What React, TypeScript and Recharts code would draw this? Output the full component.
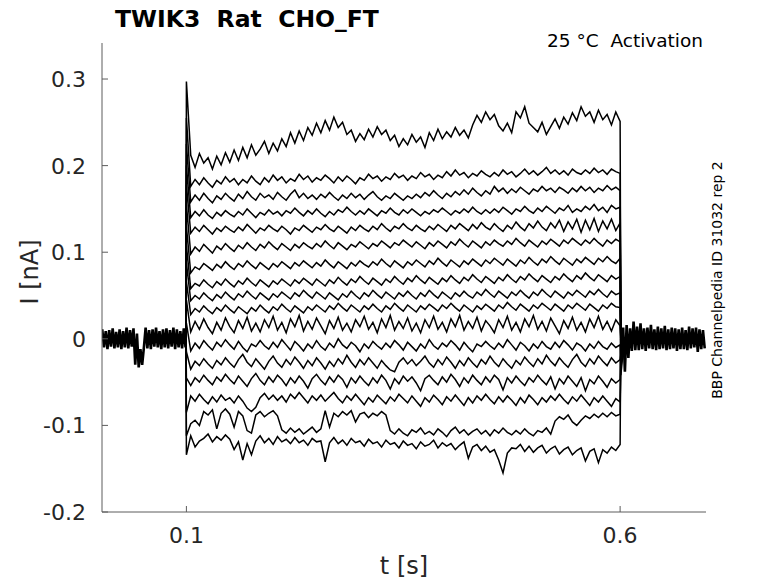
import { LineChart, Line, XAxis, YAxis } from "recharts"

// current traces are stored in pA, plotted in nA
const STEP_DT = 0.005 // s, one sample per 5 ms during the voltage step
const BAND_DT = 0.002 // s, holding-level samples

const X_TICKS = [0.1, 0.6]
const Y_TICKS = [-0.2, -0.1, 0, 0.1, 0.2, 0.3]

const sweep01 = [
  212, 198, 214, 203, 209, 196, 211, 201, 215, 204,
  218, 206, 221, 209, 224, 212, 219, 228, 214, 226,
  217, 231, 222, 238, 226, 240, 229, 244, 235, 249,
  238, 252, 241, 256, 244, 250, 236, 241, 228, 237,
  230, 242, 233, 245, 236, 241, 229, 235, 222, 231,
  224, 236, 227, 233, 221, 238, 229, 242, 231, 239,
  233, 244, 235, 241, 232, 247, 258, 250, 262, 253,
  259, 246, 240, 249, 238, 262, 255, 268, 249, 244,
  239, 250, 236, 245, 254, 243, 256, 248, 261, 252,
  268, 257, 262, 250, 264, 253, 259, 247, 262, 251,
]
const sweep02 = [
  176, 184, 178, 186, 180, 175, 183, 179, 187, 181,
  185, 178, 184, 180, 188, 182, 178, 186, 181, 189,
  183, 187, 180, 185, 182, 190, 184, 188, 181, 186,
  183, 189, 185, 180, 187, 182, 188, 184, 179, 186,
  183, 190, 185, 188, 182, 187, 184, 191, 186, 189,
  183, 188, 185, 192, 187, 190, 184, 189, 186, 193,
  188, 195, 189, 192, 186, 191, 188, 194, 190, 187,
  192, 188, 195, 190, 193, 187, 191, 196, 190, 194,
  189, 193, 198, 191, 195, 190, 194, 189, 196, 192,
  190, 195, 191, 197, 192, 195, 190, 196, 193, 191,
]
const sweep03 = [
  158, 166, 160, 168, 162, 157, 165, 161, 168, 163,
  159, 167, 162, 170, 164, 160, 168, 163, 166, 161,
  169, 164, 160, 167, 172, 163, 168, 162, 166, 161,
  167, 163, 169, 164, 160, 166, 162, 168, 163, 167,
  161, 166, 170, 164, 160, 165, 162, 168, 164, 160,
  165, 162, 167, 163, 169, 165, 171, 166, 162, 168,
  164, 170, 166, 172, 167, 174, 169, 165, 171, 167,
  176, 170, 174, 168, 173, 169, 175, 171, 167, 173,
  170, 176, 171, 174, 169, 175, 172, 168, 174, 170,
  176, 171, 175, 169, 174, 171, 177, 172, 175, 171,
]
const sweep04 = [
  140, 147, 142, 149, 143, 139, 146, 142, 148, 144,
  141, 147, 143, 150, 145, 140, 146, 143, 149, 144,
  147, 142, 148, 145, 151, 146, 142, 148, 144, 150,
  145, 141, 147, 143, 149, 146, 152, 147, 143, 148,
  144, 150, 146, 142, 148, 145, 151, 146, 143, 149,
  145, 150, 146, 142, 147, 144, 149, 146, 151, 147,
  143, 148, 145, 150, 146, 152, 147, 144, 149, 145,
  150, 146, 152, 148, 144, 150, 147, 153, 148, 145,
  151, 147, 153, 149, 145, 151, 148, 154, 146, 150,
  147, 153, 149, 155, 148, 152, 146, 154, 150, 152,
]
const sweep05 = [
  122, 129, 124, 131, 126, 121, 128, 124, 130, 126,
  123, 129, 125, 132, 127, 122, 128, 125, 131, 127,
  124, 130, 126, 121, 128, 125, 131, 127, 123, 129,
  126, 132, 127, 124, 130, 126, 122, 129, 125, 131,
  127, 124, 130, 126, 133, 128, 124, 130, 127, 133,
  128, 125, 131, 127, 124, 130, 126, 132, 128, 124,
  131, 127, 133, 129, 125, 132, 127, 134, 129, 126,
  133, 128, 124, 131, 127, 135, 129, 125, 133, 128,
  136, 129, 125, 134, 128, 137, 124, 135, 127, 138,
  123, 137, 126, 139, 124, 136, 127, 138, 125, 134,
]
const sweep06 = [
  98, 106, 101, 109, 104, 99, 107, 103, 110, 105,
  101, 108, 104, 111, 106, 102, 109, 105, 112, 107,
  103, 110, 106, 102, 109, 105, 111, 107, 104, 110,
  106, 113, 108, 104, 111, 107, 103, 109, 106, 112,
  108, 104, 110, 107, 113, 109, 105, 111, 108, 114,
  110, 106, 112, 108, 104, 111, 107, 113, 109, 105,
  112, 108, 115, 110, 106, 113, 109, 105, 112, 108,
  114, 110, 107, 113, 109, 116, 111, 107, 114, 110,
  106, 113, 109, 115, 111, 107, 114, 110, 116, 112,
  108, 114, 110, 116, 111, 107, 114, 110, 115, 112,
]
const sweep07 = [
  76, 83, 80, 87, 83, 79, 86, 82, 89, 84,
  80, 87, 83, 90, 85, 81, 88, 84, 80, 87,
  83, 89, 85, 81, 88, 84, 90, 86, 82, 88,
  84, 91, 86, 82, 89, 85, 81, 88, 84, 90,
  86, 83, 89, 85, 92, 87, 83, 90, 86, 82,
  89, 85, 91, 87, 83, 90, 86, 93, 88, 84,
  91, 87, 83, 90, 86, 92, 88, 84, 91, 87,
  93, 89, 85, 92, 88, 84, 91, 87, 94, 89,
  85, 92, 88, 95, 90, 86, 93, 89, 85, 92,
  88, 94, 90, 86, 93, 89, 95, 90, 87, 93,
]
const sweep08 = [
  58, 64, 61, 68, 63, 59, 66, 62, 69, 64,
  60, 67, 63, 70, 65, 61, 68, 64, 60, 67,
  63, 69, 65, 61, 68, 64, 70, 66, 62, 69,
  65, 61, 68, 64, 71, 66, 62, 69, 65, 72,
  67, 63, 70, 66, 62, 69, 65, 72, 67, 63,
  70, 66, 73, 68, 64, 71, 67, 63, 70, 66,
  73, 68, 64, 71, 67, 74, 69, 65, 72, 68,
  64, 71, 67, 74, 69, 65, 72, 68, 75, 70,
  66, 73, 69, 65, 72, 68, 75, 70, 66, 73,
  69, 76, 71, 67, 74, 70, 66, 73, 69, 72,
]
const sweep09 = [
  44, 50, 46, 53, 48, 44, 51, 47, 54, 49,
  45, 52, 48, 55, 50, 46, 53, 49, 45, 52,
  48, 54, 50, 46, 53, 49, 56, 51, 47, 54,
  50, 46, 53, 49, 45, 52, 48, 55, 50, 46,
  53, 49, 56, 51, 47, 54, 50, 46, 53, 49,
  55, 50, 46, 53, 49, 56, 51, 47, 54, 50,
  46, 53, 49, 55, 50, 47, 54, 50, 57, 52,
  48, 55, 51, 47, 54, 50, 56, 51, 47, 54,
  50, 57, 52, 48, 55, 51, 47, 54, 50, 56,
  52, 48, 55, 51, 57, 52, 48, 55, 51, 53,
]
const sweep10 = [
  28, 35, 31, 38, 33, 29, 36, 32, 39, 34,
  30, 37, 33, 29, 36, 32, 39, 34, 30, 37,
  33, 40, 35, 31, 38, 34, 30, 37, 33, 39,
  35, 31, 38, 34, 41, 36, 32, 39, 35, 31,
  38, 34, 40, 35, 31, 38, 34, 41, 36, 32,
  39, 35, 31, 38, 34, 40, 36, 32, 39, 35,
  41, 36, 32, 39, 35, 31, 38, 34, 40, 36,
  32, 39, 35, 42, 37, 33, 40, 36, 32, 39,
  35, 41, 37, 33, 40, 36, 32, 39, 35, 41,
  37, 33, 40, 36, 32, 39, 35, 41, 37, 36,
]
const sweep11 = [
  8, 20, 11, 23, 13, 6, 19, 10, 24, 14,
  7, 21, 12, 25, 9, 18, 8, 22, 13, 26,
  10, 19, 7, 23, 14, 27, 9, 20, 11, 24,
  15, 6, 21, 12, 25, 10, 18, 8, 22, 14,
  26, 11, 19, 7, 23, 13, 27, 10, 20, 12,
  24, 9, 18, 7, 22, 13, 26, 11, 19, 8,
  23, 14, 27, 10, 20, 12, 25, 9, 21, 15,
  7, 22, 13, 26, 10, 19, 8, 23, 14, 27,
  11, 20, 9, 24, 15, 6, 21, 12, 25, 10,
  19, 8, 23, 13, 26, 11, 20, 9, 22, 15,
]
const sweep12 = [
  -14, -5, -11, -2, -8, -13, -4, -9, -1, -7,
  -12, -3, -10, -15, -6, -9, -2, -8, -12, -4,
  -10, -1, -7, -13, -3, -8, -14, -6, -11, -2,
  -9, -13, -5, -10, 0, -7, -11, -4, -8, -15,
  -6, -11, -3, -8, -12, -5, -10, -2, -7, -13,
  -4, -9, -14, -6, -11, -1, -8, -12, -5, -9,
  -2, -7, -13, -4, -10, -15, -6, -9, -3, -8,
  -12, -5, -10, -1, -7, -13, -4, -8, -14, -6,
  -11, -3, -9, -12, -4, -10, -2, -7, -13, -5,
  -8, -14, -6, -11, -3, -9, -12, -5, -10, -7,
]
const sweep13 = [
  -35, -26, -31, -23, -29, -34, -25, -30, -22, -28,
  -33, -24, -18, -27, -32, -23, -29, -35, -26, -20,
  -28, -33, -24, -30, -21, -27, -34, -25, -31, -22,
  -28, -35, -26, -32, -23, -29, -19, -27, -33, -24,
  -30, -22, -28, -34, -25, -31, -36, -38, -27, -22,
  -29, -24, -31, -26, -20, -28, -33, -24, -30, -21,
  -27, -34, -25, -31, -22, -28, -33, -24, -29, -20,
  -27, -32, -23, -29, -34, -25, -30, -21, -27, -32,
  -23, -29, -19, -26, -31, -22, -28, -33, -24, -18,
  -27, -32, -23, -29, -20, -26, -31, -22, -28, -24,
]
const sweep14 = [
  -54, -45, -50, -42, -48, -53, -44, -49, -41, -47,
  -52, -43, -49, -55, -46, -40, -48, -53, -44, -50,
  -42, -47, -54, -45, -51, -43, -49, -57, -46, -41,
  -48, -53, -44, -50, -42, -47, -56, -45, -51, -43,
  -49, -54, -45, -51, -42, -48, -58, -46, -52, -43,
  -49, -44, -51, -60, -46, -42, -48, -53, -44, -50,
  -41, -47, -55, -45, -51, -42, -48, -53, -44, -50,
  -42, -47, -59, -45, -51, -43, -49, -54, -45, -50,
  -42, -48, -53, -44, -58, -46, -52, -43, -49, -55,
  -45, -60, -47, -52, -43, -49, -56, -46, -51, -47,
]
const sweep15 = [
  -66, -72, -64, -70, -75, -67, -73, -65, -71, -68,
  -74, -66, -72, -80, -84, -79, -68, -63, -70, -65,
  -71, -66, -73, -64, -69, -62, -68, -74, -66, -71,
  -65, -72, -67, -62, -69, -74, -66, -71, -64, -70,
  -76, -68, -73, -65, -70, -75, -67, -72, -64, -69,
  -74, -66, -72, -78, -68, -73, -65, -70, -76, -67,
  -72, -65, -71, -77, -68, -74, -66, -71, -64, -70,
  -75, -67, -73, -66, -71, -77, -68, -74, -65, -70,
  -76, -68, -73, -66, -71, -64, -70, -75, -67, -72,
  -65, -71, -77, -68, -73, -66, -72, -78, -69, -73,
]
const sweep16 = [
  -98, -94, -100, -84, -88, -82, -104, -86, -81, -87,
  -102, -84, -89, -106, -109, -88, -84, -90, -86, -83,
  -89, -105, -109, -103, -108, -104, -110, -106, -102, -108,
  -104, -83, -102, -86, -90, -84, -88, -83, -96, -87,
  -85, -91, -86, -89, -84, -88, -106, -110, -104, -109,
  -112, -105, -108, -103, -110, -107, -111, -104, -108, -113,
  -106, -102, -109, -105, -111, -107, -104, -110, -106, -112,
  -105, -109, -103, -108, -111, -106, -110, -104, -109, -112,
  -106, -108, -103, -110, -95, -90, -93, -88, -96, -100,
  -94, -89, -92, -87, -91, -86, -90, -85, -89, -87,
]
const sweep17 = [
  -112, -125, -118, -115, -110, -119, -113, -117, -111, -116,
  -128, -119, -140, -121, -134, -118, -112, -120, -115, -122,
  -113, -119, -116, -121, -114, -120, -117, -123, -115, -119,
  -118, -142, -120, -114, -121, -117, -123, -115, -120, -118,
  -124, -116, -121, -119, -125, -117, -122, -120, -126, -118,
  -123, -121, -127, -119, -124, -122, -117, -126, -120, -124,
  -121, -128, -123, -119, -138, -125, -122, -129, -124, -131,
  -128, -140, -155, -132, -126, -127, -122, -130, -124, -131,
  -126, -123, -132, -127, -124, -133, -128, -125, -134, -129,
  -126, -141, -130, -127, -143, -128, -132, -125, -129, -122,
]

// capacitive peak at step onset, tail just after step offset
const SPIKE_PA = [297, 255, 225, 200, 178, 155, 130, 108, 88, 66, 45, 18, -15, -45, -85, -112, -134]
const DROP_PA = [8, -4, 6, -10, 3, -14, 5, -22, -9, -35, 2, -42, -18, 7, -28, -12, 4]
const SETTLE_PA = [2, -3, 4, -6, 1, -8, 3, -10, -2, -14, 5, -20, -6, 4, -9, -3, 2]

// overlapping holding-level noise of all sweeps, before and after the step
const PRE_BAND_PA = [
  11, -10, 9, -12, 10, -9, 12, -11, 8, -10,
  11, -12, 9, -10, 13, -11, 10, -9, 12, -30,
  6, -33, -12, -30, -10, 13, -11, 10, -12, 11,
  -9, 13, -10, 9, -12, 11, -10, 12, -11, 10,
  -9, 13, -12, 11, -10, 9, -11, 12, -10,
]
const POST_BAND_PA = [
  -25, 13, -38, 16, -22, 12, -14, 20, -13, 14,
  -13, 18, -12, 12, -14, 13, -11, 16, -12, 11,
  -13, 14, -12, 12, -11, 15, -13, 11, -12, 13,
  -11, 12, -14, 11, -12, 13, -12, 10, -13, 14,
  -11, 12, -10, 13, -15, 11, -12, 10, -11,
]

const SWEEPS = [
  sweep01, sweep02, sweep03, sweep04, sweep05, sweep06, sweep07, sweep08, sweep09,
  sweep10, sweep11, sweep12, sweep13, sweep14, sweep15, sweep16, sweep17,
]

const r4 = (n: number) => Math.round(n * 10000) / 10000
const stepT = sweep01.map((_, i) => r4(0.1 + STEP_DT * (i + 1)))

const sweepData = SWEEPS.map((vals, k) => [
  { t: 0.0995, v: 0 },
  { t: 0.1, v: SPIKE_PA[k] / 1000 },
  ...vals.map((v, i) => ({ t: stepT[i], v: v / 1000 })),
  { t: 0.6008, v: DROP_PA[k] / 1000 },
  { t: 0.603, v: SETTLE_PA[k] / 1000 },
])
const preBand = PRE_BAND_PA.map((v, j) => ({ t: r4(0.003 + BAND_DT * j), v: v / 1000 }))
const postBand = POST_BAND_PA.map((v, j) => ({ t: r4(0.6015 + BAND_DT * j), v: v / 1000 }))

const FONT = "DejaVu Sans"
const AX = "#5c5c5c"
const TXT = "#262626"

function XTick({ x, y, payload }: any) {
  return (
    <g>
      <line x1={x} y1={y} x2={x} y2={y - 6} stroke={AX} />
      <text x={x} y={y + 31} textAnchor="middle" fontSize={22} fill={TXT} fontFamily={FONT}>
        {payload.value}
      </text>
    </g>
  )
}

function YTick({ x, y, payload }: any) {
  const v = payload.value as number
  return (
    <g>
      <line x1={x} y1={y} x2={x + 6} y2={y} stroke={AX} />
      <text x={x - 16} y={y} dy="0.36em" textAnchor="end" fontSize={22} fill={TXT} fontFamily={FONT}>
        {v === 0 ? "0" : v.toFixed(1)}
      </text>
    </g>
  )
}

export default function App() {
  return (
    <div style={{ position: "absolute", left: 0, top: 0, width: 778, height: 583, background: "#fff" }}>
      <LineChart width={778} height={583} margin={{ top: 43, right: 72, left: 42, bottom: 31 }}>
        <XAxis
          dataKey="t" type="number" domain={[0.0027, 0.699]} allowDataOverflow
          ticks={X_TICKS} interval={0} height={40} tickSize={0} tickMargin={0}
          axisLine={{ stroke: AX }} tickLine={false} tick={(p: any) => <XTick {...p} />}
        />
        <YAxis
          type="number" domain={[-0.2, 0.3416]} allowDataOverflow
          ticks={Y_TICKS} interval={0} width={60} tickSize={0} tickMargin={0}
          axisLine={{ stroke: AX }} tickLine={false} tick={(p: any) => <YTick {...p} />}
        />
        <Line data={preBand} dataKey="v" stroke="#000" strokeWidth={2.6} dot={false} isAnimationActive={false} />
        <Line data={postBand} dataKey="v" stroke="#000" strokeWidth={2.6} dot={false} isAnimationActive={false} />
        {sweepData.map((d, k) => (
          <Line key={k} data={d} dataKey="v" stroke="#000" strokeWidth={1.5} dot={false} isAnimationActive={false} />
        ))}
      </LineChart>
      <svg width={778} height={583} style={{ position: "absolute", left: 0, top: 0, pointerEvents: "none" }}>
        <text x={115} y={27} fontSize={23.5} fontWeight="bold" fontFamily={FONT} fill="#000" style={{ whiteSpace: "pre" }}>
          {"TWIK3  Rat  CHO_FT"}
        </text>
        <text x={703} y={47} textAnchor="end" fontSize={18.5} fontFamily={FONT} fill="#000" style={{ whiteSpace: "pre" }}>
          {"25 °C  Activation"}
        </text>
        <text transform="translate(722,280) rotate(-90)" textAnchor="middle" fontSize={14} fontFamily={FONT} fill="#000">
          BBP Channelpedia ID 31032 rep 2
        </text>
        <text transform="translate(38,272) rotate(-90)" textAnchor="middle" fontSize={24} fontFamily={FONT} fill={TXT}>
          I [nA]
        </text>
        <text x={404} y={574} textAnchor="middle" fontSize={24} fontFamily={FONT} fill={TXT}>
          t [s]
        </text>
      </svg>
    </div>
  )
}
